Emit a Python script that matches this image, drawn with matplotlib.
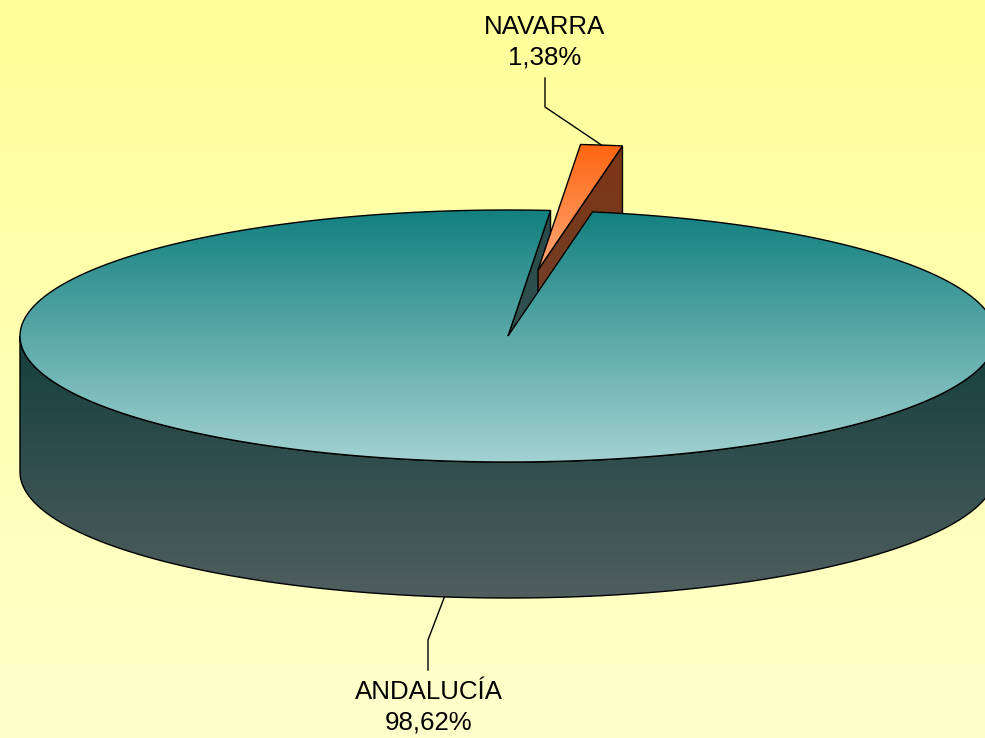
# 3D pie: ANDALUCÍA vs NAVARRA share
import matplotlib
matplotlib.use('Agg')
import matplotlib.pyplot as plt
import numpy as np
from matplotlib.patches import Polygon
from matplotlib.colors import to_rgb

labels = ['NAVARRA', 'ANDALUCÍA']
values = [1.38, 98.62]
top_colors = [('#FF6510', '#FFA878'), ('#12807F', '#A2D2D1')]
side_colors = [('#7D3512', '#6A4536'), ('#274B4A', '#3A5656')]
wall_colors = ('#143F3E', '#505E5E')

# geometry of the pie in pixel space
cx, cy = 508, 336
a, b = 488, 126
depth = 136
start = 5.0                  # degrees clockwise from 12 o'clock
explode = {'NAVARRA': (30, -66)}

plt.rcParams['font.family'] = ['Liberation Sans', 'DejaVu Sans']

fig = plt.figure(figsize=(9.85, 7.38), dpi=100)
ax = fig.add_axes([0, 0, 1, 1])


def pt(theta, dx=0, dy=0, dz=0):
    t = np.radians(theta)
    return np.column_stack([cx + a * np.sin(t) + dx, cy - b * np.cos(t) + dy + dz])


def face(verts, c_top, c_bot, z):
    verts = np.asarray(verts)
    poly = Polygon(verts, closed=True, fc='none', ec='black', lw=1.0, zorder=z + 0.5)
    ax.add_patch(poly)
    xs, ys = verts[:, 0], verts[:, 1]
    g = np.linspace(0, 1, 256)[:, None, None]
    arr = (1 - g) * np.array(to_rgb(c_top)) + g * np.array(to_rgb(c_bot))
    im = ax.imshow(arr, extent=(xs.min(), xs.max(), ys.min(), ys.max()), origin='lower',
                   aspect='auto', zorder=z, interpolation='bilinear')
    im.set_clip_path(poly)


# background
g = np.linspace(0, 1, 256)[:, None, None]
bg = (1 - g) * np.array(to_rgb('#FFFF99')) + g * np.array(to_rgb('#FFFFCC'))
ax.imshow(bg, extent=(0, 985, 0, 738), origin='lower', aspect='auto', zorder=0)

# slice angles
bounds = start + np.concatenate([[0], np.cumsum(values)]) / sum(values) * 360
nav_t0, nav_t1 = bounds[0], bounds[1]
and_t0, and_t1 = bounds[1], bounds[2]
ox, oy = explode['NAVARRA']

# end face of ANDALUCÍA seen through the gap
c = np.array([[cx, cy]])
p = pt(and_t1)
face(np.vstack([c, p, p + [0, depth], c + [0, depth]]), *side_colors[1], 1)

# NAVARRA: cut face and top
cn = c + [ox, oy]
pn = pt(nav_t1, ox, oy)
face(np.vstack([cn, pn, pn + [0, depth], cn + [0, depth]]), *side_colors[0], 2)
arc = pt(np.linspace(nav_t0, nav_t1, 20), ox, oy)
face(np.vstack([cn, arc]), *top_colors[0], 3)

# ANDALUCÍA: front wall and top
front = pt(np.linspace(90, 270, 200))
face(np.vstack([front, front[::-1] + [0, depth]]), *wall_colors, 4)
arc = pt(np.linspace(and_t0, and_t1, 400))
face(np.vstack([c, arc]), *top_colors[1], 5)

# labels with leader lines
mid_nav = pt((nav_t0 + nav_t1) / 2, ox, oy)[0]
mid_and = pt((and_t0 + and_t1) / 2, dz=depth)[0]
ax.plot([mid_nav[0], 545, 545], [mid_nav[1], 107, 78], color='black', lw=1, zorder=7)
ax.plot([mid_and[0], 428, 428], [mid_and[1], 640, 670], color='black', lw=1, zorder=7)

fmt = lambda v: f'{v:.2f}%'.replace('.', ',')
ax.text(545, 42, f'{labels[0]}\n{fmt(values[0])}', ha='center', va='center',
        fontsize=18.6, linespacing=1.35, zorder=8)
ax.text(429, 707, f'{labels[1]}\n{fmt(values[1])}', ha='center', va='center',
        fontsize=18.6, linespacing=1.35, zorder=8)

ax.set_xlim(0, 985)
ax.set_ylim(738, 0)
ax.axis('off')
fig.savefig('out.png', dpi=100)
